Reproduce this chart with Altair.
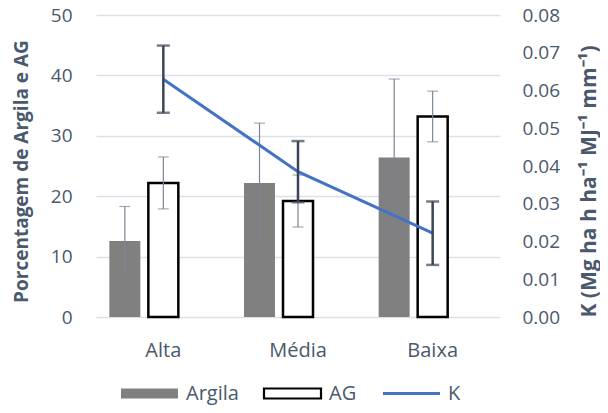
import altair as alt
import pandas as pd

categories = ["Alta", "Média", "Baixa"]
argila = [12.6, 22.2, 26.4]
argila_err = [5.7, 9.9, 13.0]
ag = [22.2, 19.2, 33.2]
ag_err = [4.3, 4.3, 4.2]
k_vals = [0.063, 0.0385, 0.0222]
k_err = [0.0089, 0.0081, 0.0084]
series_names = ["Argila", "AG", "K"]
left_ticks = [0, 10, 20, 30, 40, 50]
right_ticks = [0.0, 0.01, 0.02, 0.03, 0.04, 0.05, 0.06, 0.07, 0.08]

TXT = "#4a596d"
FONT = "Open Sans"
GRAY = "#808080"
BLUE = "#4472C4"
RECT = "M-1,-0.175L1,-0.175L1,0.175L-1,0.175Z"
LINE = "M-1,0L1,0"
LT = "Porcentagem de Argila e AG"
RT = "K (Mg ha h ha⁻¹ MJ⁻¹ mm⁻¹)"


def frame(vals, errs, name):
    return pd.DataFrame({"cat": categories, "value": vals, "err": errs, "series": name})


df_arg = frame(argila, argila_err, series_names[0])
df_ag = frame(ag, ag_err, series_names[1])
df_k = frame(k_vals, k_err, series_names[2])

x_enc = alt.X(
    "cat:N",
    sort=categories,
    scale=alt.Scale(paddingInner=0, paddingOuter=0),
    axis=alt.Axis(title=None, labelAngle=0, ticks=False, tickSize=0, domain=False,
                  grid=False, labelPadding=23, labelFontSize=20, labelFont=FONT,
                  labelColor=TXT),
)

left_axis = alt.Axis(values=left_ticks, grid=True, gridColor="#dde1e7", gridWidth=1.5,
                     ticks=False, tickSize=0, domain=False, labelPadding=24,
                     labelFontSize=19, labelFont=FONT, labelColor=TXT,
                     titleFont=FONT, titleFontSize=19,
                     titleFontWeight="bold", titleColor=TXT, titleAngle=270,
                     titleBaseline="middle", titleAlign="center", titleX=-75, titleY=156)
right_axis = alt.Axis(orient="right", values=right_ticks, format=".2f", grid=False,
                      ticks=False, tickSize=0, domain=False, labelPadding=22,
                      labelFontSize=19, labelFont=FONT, labelColor=TXT,
                      titleFont=FONT, titleFontSize=21,
                      titleFontWeight="bold", titleColor=TXT, titleAngle=270,
                      titleBaseline="middle", titleAlign="center", titleX=89, titleY=166)

yscale_l = alt.Scale(domain=[0, 50], nice=False)
yscale_r = alt.Scale(domain=[0, 0.08], nice=False)

legend = alt.Legend(
    orient="none", direction="horizontal", legendX=43.5, legendY=368.5, title=None,
    symbolSize=3249,
    symbolType={"expr": f"datum.value === 'K' ? '{LINE}' : '{RECT}'"},
    symbolStrokeWidth={"expr": "datum.value === 'K' ? 3 : (datum.value === 'AG' ? 2.2 : 0)"},
    labelFontSize=20, labelFont=FONT, labelColor=TXT,
    labelOffset=26.5, columnPadding=20, gridAlign="each",
)
fill_scale = alt.Scale(domain=series_names, range=[GRAY, "white", "transparent"])
stroke_scale = alt.Scale(domain=series_names, range=[GRAY, "black", BLUE])

ARG_OFF = -38.5


def bars(df, off, sw):
    return alt.Chart(df).mark_bar(size=30 if sw else 31, xOffset=off, strokeWidth=sw).encode(
        x=x_enc,
        y=alt.Y("value:Q", scale=yscale_l, axis=left_axis, title=LT),
        fill=alt.Fill("series:N", scale=fill_scale, legend=legend),
        stroke=alt.Stroke("series:N", scale=stroke_scale, legend=legend),
    )


def errs(df, off, color, sw, cap, yscale, axis, title):
    base = alt.Chart(df).transform_calculate(
        lo="datum.value - datum.err", hi="datum.value + datum.err"
    )
    rule = base.mark_rule(color=color, strokeWidth=sw, xOffset=off).encode(
        x=x_enc,
        y=alt.Y("lo:Q", scale=yscale, axis=axis, title=title),
        y2="hi:Q",
    )
    cap_lo = base.mark_tick(color=color, thickness=sw, size=cap, xOffset=off, orient="horizontal").encode(
        x=x_enc, y=alt.Y("lo:Q", scale=yscale, axis=axis, title=title)
    )
    cap_hi = base.mark_tick(color=color, thickness=sw, size=cap, xOffset=off, orient="horizontal").encode(
        x=x_enc, y=alt.Y("hi:Q", scale=yscale, axis=axis, title=title)
    )
    return [rule, cap_lo, cap_hi]


thin = "#7c8594"
thick = "#3b4556"

left = alt.layer(
    bars(df_arg, ARG_OFF, 0),
    bars(df_ag, 0, 2.5),
    *errs(df_arg, ARG_OFF, thin, 1.2, 11, yscale_l, left_axis, LT),
    *errs(df_ag, 0, thin, 1.2, 11, yscale_l, left_axis, LT),
)

line = alt.Chart(df_k).mark_line(strokeWidth=3).encode(
    x=x_enc,
    y=alt.Y("value:Q", scale=yscale_r, axis=right_axis, title=RT),
    stroke=alt.Stroke("series:N", scale=stroke_scale, legend=legend),
)

right = alt.layer(
    line,
    *errs(df_k, 0, thick, 2.5, 13, yscale_r, right_axis, RT),
)

chart = alt.layer(left, right).resolve_scale(y="independent").properties(
    width=404, height=302,
    autosize=alt.AutoSizeParams(type="none"),
    padding={"left": 88, "top": 7, "right": 100, "bottom": 88},
).configure_view(stroke=None)

chart.save("out.html", embed_options={"renderer": "svg", "actions": False})
